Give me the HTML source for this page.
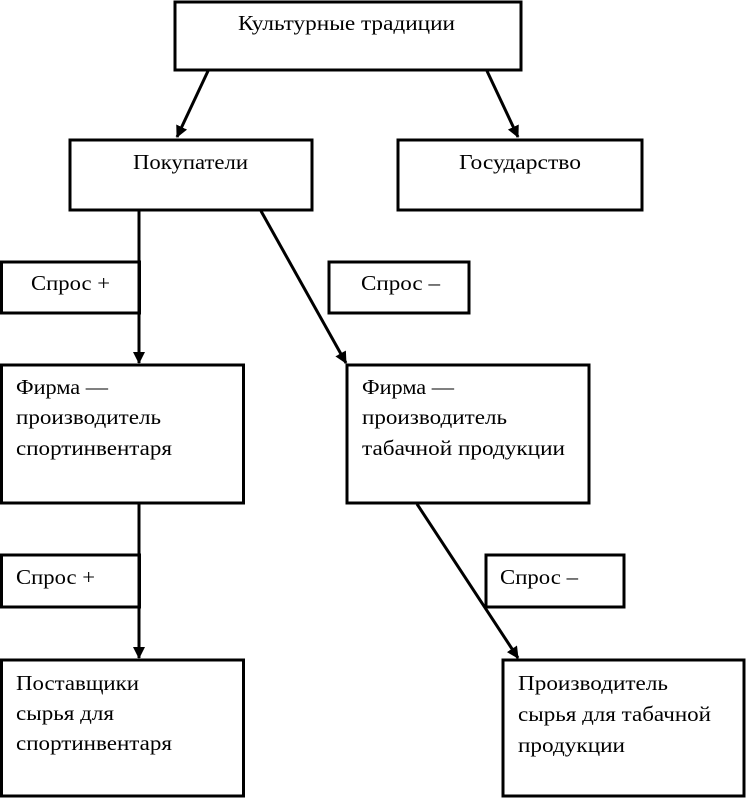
<!DOCTYPE html>
<html><head><meta charset="utf-8"><style>
html,body{margin:0;padding:0;background:#fff;}
svg{display:block;}
text{font-family:"Liberation Serif","Noto Serif CJK SC",serif;font-size:21px;fill:#000;}
</style></head><body>
<svg width="746" height="799" viewBox="0 0 746 799" xmlns="http://www.w3.org/2000/svg">
<defs><marker id="a" markerWidth="12" markerHeight="14" refX="11" refY="6" orient="auto" markerUnits="userSpaceOnUse"><path d="M0,0 L12,6 L0,12 z" fill="#000"/></marker></defs>
<g fill="none" stroke="#000" stroke-width="3">
<rect x="175" y="2" width="346" height="68"/>
<rect x="70" y="140" width="242" height="70"/>
<rect x="398" y="140" width="244" height="70"/>
<rect x="1.5" y="262" width="138" height="51"/>
<rect x="329" y="262" width="140" height="51"/>
<rect x="1.5" y="365" width="242" height="138"/>
<rect x="347" y="365" width="242" height="138"/>
<rect x="1.5" y="555" width="138" height="52"/>
<rect x="486" y="555" width="138" height="52"/>
<rect x="1.5" y="660" width="242" height="136"/>
<rect x="503" y="660" width="241" height="136"/>
</g>
<g stroke="#000" stroke-width="3" marker-end="url(#a)">
<line x1="208" y1="71" x2="177" y2="137"/>
<line x1="487" y1="71" x2="518" y2="137"/>
<line x1="139" y1="211" x2="139" y2="363"/>
<line x1="261" y1="211" x2="346" y2="363"/>
<line x1="139" y1="504" x2="139" y2="658"/>
<line x1="417" y1="504" x2="518" y2="658"/>
</g>
<text x="238" y="30" textLength="217" lengthAdjust="spacingAndGlyphs">Культурные традиции</text>
<text x="133" y="169" textLength="115" lengthAdjust="spacingAndGlyphs">Покупатели</text>
<text x="459" y="169" textLength="122" lengthAdjust="spacingAndGlyphs">Государство</text>
<text x="31" y="290" textLength="79" lengthAdjust="spacingAndGlyphs">Спрос +</text>
<text x="361" y="290" textLength="79" lengthAdjust="spacingAndGlyphs">Спрос –</text>
<text x="16" y="394" textLength="92" lengthAdjust="spacingAndGlyphs">Фирма —</text>
<text x="16" y="424" textLength="145" lengthAdjust="spacingAndGlyphs">производитель</text>
<text x="16" y="455" textLength="156" lengthAdjust="spacingAndGlyphs">спортинвентаря</text>
<text x="362" y="394" textLength="92" lengthAdjust="spacingAndGlyphs">Фирма —</text>
<text x="362" y="424" textLength="145" lengthAdjust="spacingAndGlyphs">производитель</text>
<text x="362" y="455" textLength="203" lengthAdjust="spacingAndGlyphs">табачной продукции</text>
<text x="16" y="584" textLength="79" lengthAdjust="spacingAndGlyphs">Спрос +</text>
<text x="500" y="584" textLength="78" lengthAdjust="spacingAndGlyphs">Спрос –</text>
<text x="16" y="690" textLength="123" lengthAdjust="spacingAndGlyphs">Поставщики</text>
<text x="16" y="720" textLength="98" lengthAdjust="spacingAndGlyphs">сырья для</text>
<text x="16" y="750" textLength="156" lengthAdjust="spacingAndGlyphs">спортинвентаря</text>
<text x="518" y="690" textLength="150" lengthAdjust="spacingAndGlyphs">Производитель</text>
<text x="518" y="721" textLength="193" lengthAdjust="spacingAndGlyphs">сырья для табачной</text>
<text x="518" y="752" textLength="107" lengthAdjust="spacingAndGlyphs">продукции</text>
</svg>
</body></html>
